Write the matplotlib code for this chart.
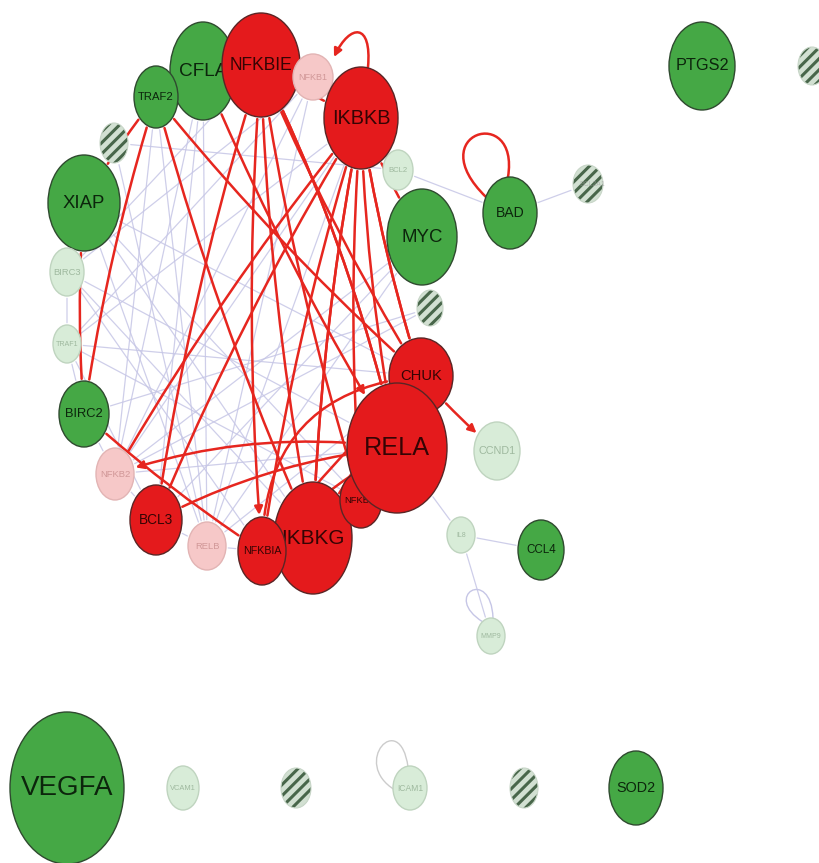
import matplotlib
matplotlib.use('Agg')
import matplotlib.pyplot as plt
from matplotlib.patches import Ellipse, FancyArrowPatch
from matplotlib.path import Path

# node data: gene name and regulation state
node_names = ["TRAF2", "CFLA", "NFKBIE", "NFKB1", "IKBKB", "S1", "XIAP", "BCL2", "MYC",
              "BIRC3", "S2", "TRAF1", "CHUK", "BIRC2", "RELA", "CCND1", "NFKB2", "NFKBIB",
              "BCL3", "RELB", "NFKBIA", "IKBKG", "IL8", "CCL4", "MMP9", "BAD", "BCL2A1",
              "PTGS2", "S3", "VEGFA", "VCAM1", "S4", "ICAM1", "S5", "SOD2"]
node_state = ["up", "up", "down", "down_faint", "down", "na", "up", "up_faint", "up",
              "up_faint", "na", "up_faint", "down", "up", "down", "up_faint", "down_faint", "down",
              "down", "down_faint", "down", "down", "up_faint", "up", "up_faint", "up", "na",
              "up", "na", "up", "up_faint", "na", "up_faint", "na", "up"]
# striped (no data) nodes carry no visible label
node_labels = {"S1": "", "S2": "", "S3": "", "S4": "", "S5": "", "BCL2A1": "BCL2A1"}

# activation edges (red): source, target, has arrowhead
act_src = ["NFKBIE", "NFKBIE", "NFKBIE", "NFKBIE", "NFKBIE", "NFKBIE", "NFKBIE", "NFKBIE",
           "IKBKB", "IKBKB", "IKBKB", "IKBKB", "IKBKB", "IKBKB", "IKBKB", "IKBKB", "IKBKB", "IKBKB",
           "CHUK", "CHUK", "CHUK", "RELA", "RELA", "RELA", "NFKBIA", "CFLA",
           "TRAF2", "TRAF2", "TRAF2", "TRAF2", "XIAP", "BIRC2", "IKBKB", "BAD"]
act_dst = ["IKBKB", "NFKBIA", "IKBKG", "NFKBIB", "RELA", "CHUK", "BCL3", "RELA",
           "NFKBIA", "IKBKG", "IKBKG", "NFKBIB", "RELA", "CHUK", "NFKB2", "BCL3", "MYC", "CHUK",
           "NFKBIA", "IKBKG", "CCND1", "NFKB2", "BCL3", "NFKBIA", "CHUK", "RELA",
           "BIRC2", "XIAP", "CHUK", "IKBKG", "BIRC2", "NFKBIA", "NFKB1", "BAD"]
act_arrow = [False, True, False, False, False, False, False, False,
             False, False, False, False, False, False, False, False, False, False,
             False, False, True, True, False, False, False, True,
             False, False, False, False, False, False, True, False]

# interaction edges (light)
ppi_src = ["S1", "TRAF1", "BIRC3", "TRAF1", "BIRC3", "BIRC2", "BIRC3", "BIRC3", "XIAP", "XIAP",
           "XIAP", "TRAF1", "TRAF1", "NFKB2", "NFKB2", "RELB", "RELB", "NFKB2", "TRAF2", "TRAF2",
           "CFLA", "NFKB1", "NFKB1", "NFKB1", "S1", "MYC", "MYC", "S2", "XIAP", "TRAF2",
           "NFKBIE", "BCL3", "RELB", "NFKB2", "MYC", "S2", "BIRC3", "TRAF1", "CFLA", "NFKB1",
           "BCL2", "BAD", "RELA", "IL8", "IL8", "MMP9", "ICAM1"]
ppi_dst = ["BCL2", "CHUK", "TRAF1", "BIRC2", "XIAP", "NFKB2", "NFKBIA", "RELA", "IKBKG", "NFKBIB",
           "RELB", "BCL3", "IKBKB", "IKBKB", "RELA", "CHUK", "IKBKB", "CFLA", "RELB", "NFKB2",
           "BCL3", "BIRC3", "NFKB2", "RELB", "RELB", "NFKB2", "BCL3", "BIRC2", "CHUK", "NFKB1",
           "BIRC3", "RELB", "NFKBIA", "BCL3", "RELB", "NFKB2", "IKBKG", "NFKBIB", "RELB", "TRAF1",
           "BAD", "BCL2A1", "IL8", "CCL4", "MMP9", "MMP9", "ICAM1"]

# layout in pixel coordinates: x, y, half-width, half-height
layout = {
    "TRAF2": (156, 97, 22, 31), "CFLA": (203, 71, 33, 49), "NFKBIE": (261, 65, 39, 52),
    "NFKB1": (313, 77, 20, 23), "IKBKB": (361, 118, 37, 51), "S1": (114, 143, 14, 20),
    "XIAP": (84, 203, 36, 48), "BCL2": (398, 170, 15, 20), "MYC": (422, 237, 35, 48),
    "BIRC3": (67, 272, 17, 24), "S2": (430, 308, 13, 18), "TRAF1": (67, 344, 14, 19),
    "CHUK": (421, 376, 32, 38), "BIRC2": (84, 414, 25, 33), "RELA": (397, 448, 50, 65),
    "CCND1": (497, 451, 23, 29), "NFKB2": (115, 474, 19, 26), "NFKBIB": (361, 500, 21, 28),
    "BCL3": (156, 520, 26, 35), "RELB": (207, 546, 19, 24), "NFKBIA": (262, 551, 24, 34),
    "IKBKG": (313, 538, 39, 56), "IL8": (461, 535, 14, 18), "CCL4": (541, 550, 23, 30),
    "MMP9": (491, 636, 14, 18), "BAD": (510, 213, 27, 36), "BCL2A1": (588, 184, 15, 19),
    "PTGS2": (702, 66, 33, 44), "S3": (812, 66, 14, 19), "VEGFA": (67, 788, 57, 76),
    "VCAM1": (183, 788, 16, 22), "S4": (296, 788, 15, 20), "ICAM1": (410, 788, 17, 22),
    "S5": (524, 788, 14, 20), "SOD2": (636, 788, 27, 37),
}
# drawing order (later = on top)
draw_order = ["CFLA", "TRAF2", "NFKBIE", "NFKB1", "BCL2", "IKBKB", "S1", "XIAP", "MYC", "BIRC3",
              "S2", "TRAF1", "BIRC2", "CHUK", "IKBKG", "NFKBIB", "RELA", "NFKBIA", "CCND1", "NFKB2",
              "BCL3", "RELB", "IL8", "CCL4", "MMP9", "BAD", "BCL2A1", "PTGS2", "S3", "VEGFA",
              "VCAM1", "S4", "ICAM1", "S5", "SOD2"]
bend = {("RELA", "NFKB2"): 0.12, ("RELA", "BCL3"): 0.10, ("RELA", "NFKBIA"): 0.08,
        ("NFKBIA", "CHUK"): -0.45, ("NFKBIE", "RELA"): -0.06}

styles = {
    "up": dict(fc="#45a845", ec="#2f4a2f", tc="#0c250c"),
    "down": dict(fc="#e41a1c", ec="#5a2525", tc="#350404"),
    "up_faint": dict(fc="#d8ecd8", ec="#bfd4bf", tc="#9fb99f"),
    "down_faint": dict(fc="#f6c8c8", ec="#e2b4b4", tc="#d19898"),
    "na": dict(fc="#d2e0d2", ec="#b9c9b9", tc="#b0b0b0"),
}

plt.rcParams['hatch.linewidth'] = 2.2
plt.rcParams['font.family'] = ['Liberation Sans', 'DejaVu Sans']

fig = plt.figure(figsize=(8.19, 8.63), dpi=100)
ax = fig.add_axes([0, 0, 1, 1])
ax.set_xlim(0, 819)
ax.set_ylim(863, 0)
ax.axis('off')
renderer = fig.canvas.get_renderer()

state = dict(zip(node_names, node_state))
patches = {}
z = 10
for name in draw_order:
    x, y, rx, ry = layout[name]
    st = styles[state[name]]
    if state[name] == "na":
        e = Ellipse((x, y), 2 * rx, 2 * ry, fc=st["fc"], ec="#48664a", lw=0, hatch="///", zorder=z)
        ax.add_patch(e)
        ax.add_patch(Ellipse((x, y), 2 * rx, 2 * ry, fill=False, ec="#c8d6c8", lw=0.8, zorder=z + 0.1))
    else:
        e = Ellipse((x, y), 2 * rx, 2 * ry, fc=st["fc"], ec=st["ec"], lw=1.0, zorder=z)
        ax.add_patch(e)
    patches[name] = e
    lab = node_labels.get(name, name)
    if lab:
        if state[name] == "na":
            t = ax.text(x + 4, y, lab, ha="center", va="center", fontsize=0.26 * ry,
                        color="#9a9a9a", alpha=0.6, zorder=z + 0.2)
            limit = 2.6 * rx
        else:
            t = ax.text(x, y, lab, ha="center", va="center", fontsize=0.28 * ry,
                        color=st["tc"], zorder=z + 0.2)
            limit = 1.62 * rx
        w = t.get_window_extent(renderer).width
        if w > limit:
            t.set_fontsize(t.get_fontsize() * limit / w)
    z += 1


def curve(p1, p2, p3, p4):
    return Path([p1, p2, p3, p4], [Path.MOVETO, Path.CURVE4, Path.CURVE4, Path.CURVE4])


# light interaction edges
for s, d in zip(ppi_src, ppi_dst):
    if s == d:
        x, y, rx, ry = layout[s]
        if s == "MMP9":
            pth = curve((x - 8, y - 14), (x - 50, y - 40), (x, y - 70), (x + 2, y - 18))
        else:
            pth = curve((x - 15, y + 2), (x - 60, y - 25), (x - 10, y - 80), (x - 2, y - 21))
        col = "#cccccc" if s == "ICAM1" else "#c6c6e6"
        ax.add_patch(FancyArrowPatch(path=pth, arrowstyle="-", color=col, lw=1.0, zorder=2))
        continue
    a = FancyArrowPatch(layout[s][:2], layout[d][:2], patchA=patches[s], patchB=patches[d],
                        arrowstyle="-", color="#c6c6e6", lw=0.9, alpha=0.85,
                        connectionstyle="arc3,rad=%.2f" % bend.get((s, d), 0.0), zorder=2)
    ax.add_patch(a)

# activation edges
for s, d, arr in zip(act_src, act_dst, act_arrow):
    style = "-|>" if arr else "-"
    if s == d:
        x, y, rx, ry = layout[s]
        pth = curve((x - 24, y - 16), (x - 90, y - 80), (x + 10, y - 110), (x - 2, y - 36))
        ax.add_patch(FancyArrowPatch(path=pth, arrowstyle="-", color="#e6261f", lw=1.8, zorder=3))
        continue
    if (s, d) == ("IKBKB", "NFKB1"):
        pth = curve((368, 67), (372, 22), (350, 24), (334, 57))
        ax.add_patch(FancyArrowPatch(path=pth, arrowstyle="-|>", mutation_scale=12,
                                     color="#e6261f", lw=1.8, zorder=3))
        continue
    a = FancyArrowPatch(layout[s][:2], layout[d][:2], patchA=patches[s], patchB=patches[d],
                        arrowstyle=style, mutation_scale=12, color="#e6261f", lw=1.8,
                        connectionstyle="arc3,rad=%.2f" % bend.get((s, d), 0.04), zorder=3)
    ax.add_patch(a)

fig.savefig("out.png", dpi=100, facecolor="white")
